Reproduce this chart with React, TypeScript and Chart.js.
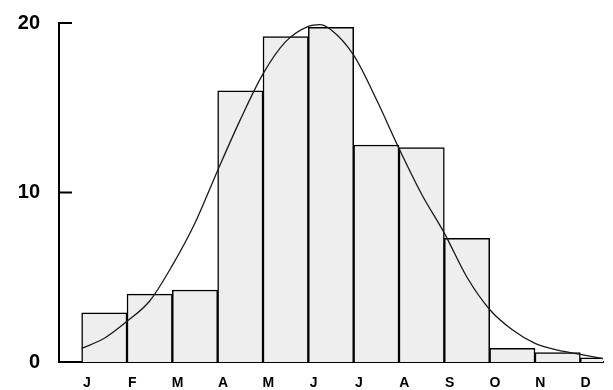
import React, { useEffect, useRef } from "react";
import { Chart, registerables } from "chart.js";

Chart.register(...registerables);

const months = ["J", "F", "M", "A", "M", "J", "J", "A", "S", "O", "N", "D"];
const barCenters = [1, 2, 3, 4, 5, 6, 7, 8, 9, 10, 11, 12];
const barValues = [2.9, 4.0, 4.25, 16.0, 19.2, 19.75, 12.8, 12.65, 7.3, 0.8, 0.55, 0.25];
const curveX = [0.5, 1.0, 1.5, 2.0, 2.5, 3.0, 3.5, 4.0, 4.5, 5.0, 5.5, 5.75, 6.0, 6.5, 7.0, 7.5, 8.0, 8.5, 9.0, 9.5, 10.0, 10.5, 11.0, 11.5, 12.0, 12.2];
const curveY = [0.8, 1.4, 2.4, 3.6, 5.7, 8.2, 11.3, 14.3, 17.0, 18.9, 19.8, 19.9, 19.6, 18.1, 15.5, 12.6, 9.9, 7.6, 5.0, 3.1, 1.9, 1.1, 0.7, 0.45, 0.2, 0.1];
const yTicks = [0, 10, 20];

const innerTicks = {
  id: "innerTicks",
  afterDraw(chart: any) {
    const { ctx, scales, chartArea } = chart;
    const y = scales.y;
    ctx.save();
    ctx.strokeStyle = "#000";
    ctx.lineWidth = 2;
    yTicks.forEach((v) => {
      if (v === 0) return;
      const py = y.getPixelForValue(v);
      ctx.beginPath();
      ctx.moveTo(chartArea.left, py);
      ctx.lineTo(chartArea.left + 13, py);
      ctx.stroke();
    });
    ctx.restore();
  },
};

export default function App() {
  const ref = useRef<HTMLCanvasElement>(null);
  useEffect(() => {
    document.body.style.margin = "0";
    const chart = new Chart(ref.current!, {
      type: "bar",
      data: {
        datasets: [
          {
            type: "line",
            data: curveX.map((x, i) => ({ x, y: curveY[i] })),
            borderColor: "#1a1a1a",
            borderWidth: 1.3,
            pointRadius: 0,
            cubicInterpolationMode: "monotone",
            fill: false,
            clip: false,
            order: 0,
          } as any,
          {
            type: "bar",
            data: barCenters.map((x, i) => ({ x, y: barValues[i] })),
            backgroundColor: "#eeeeee",
            borderColor: "#000",
            borderWidth: 1.5,
            barPercentage: 1,
            categoryPercentage: 1,
            order: 1,
          } as any,
        ],
      },
      options: {
        animation: false,
        responsive: false,
        maintainAspectRatio: false,
        layout: { padding: { top: 18, right: 10, left: 0, bottom: 0 } },
        plugins: { legend: { display: false }, tooltip: { enabled: false }, title: { display: false } },
        scales: {
          x: {
            type: "linear",
            min: 0,
            max: 12,
            offset: false,
            grid: { display: false },
            border: { display: true, color: "#000", width: 2 },
            ticks: {
              stepSize: 1,
              autoSkip: false,
              maxRotation: 0,
              labelOffset: 28,
              padding: 5,
              color: "#000",
              font: { family: "Liberation Sans", size: 14, weight: "bold" },
              callback: (v: any) => months[v as number] ?? "",
            },
            afterFit: (s: any) => {
              s.height = 28;
            },
          },
          y: {
            min: 0,
            max: 20,
            grid: { display: false },
            border: { display: true, color: "#000", width: 2 },
            ticks: {
              stepSize: 10,
              padding: 11,
              color: "#000",
              font: { family: "Liberation Sans", size: 20, weight: "bold" },
            },
            afterFit: (s: any) => {
              s.width = 59;
            },
          },
        },
      },
      plugins: [innerTicks],
    });
    return () => chart.destroy();
  }, []);
  return (
    <div style={{ width: 613, height: 390, background: "#fff" }}>
      <canvas ref={ref} width={613} height={390} style={{ display: "block" }} />
    </div>
  );
}
